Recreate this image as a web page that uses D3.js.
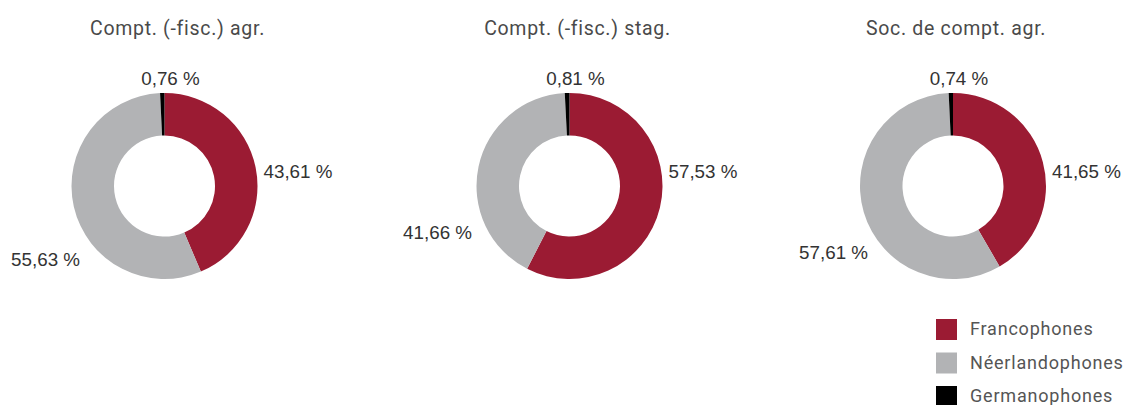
<!DOCTYPE html>
<html>
<head>
<meta charset="utf-8">
<script src="https://cdn.jsdelivr.net/npm/d3@7"></script>
<style>
  body { margin: 0; background: #fff; }
  svg { display: block; }
</style>
</head>
<body>
<div id="chart"></div>
<script>
// Data
const titles = ["Compt. (-fisc.) agr.", "Compt. (-fisc.) stag.", "Soc. de compt. agr."];
const groups = ["Francophones", "Néerlandophones", "Germanophones"];
const francophones = [43.61, 57.53, 41.65];
const neerlandophones = [55.63, 41.66, 57.61];
const germanophones = [0.76, 0.81, 0.74];
const colors = ["#9b1b33", "#b2b3b5", "#000000"];

// Layout
const width = 1129, height = 405;
const centersX = [164.5, 569.5, 953];
const titleX = [177.5, 577.5, 956];
const cy = 186;
const outerR = 93, innerR = 50.5;
// néerlandophones label offsets (right end, baseline) relative to the donut centre
const nlDx = [-84.5, -97.5, -85];
const nlDy = [80, 53, 73];

const svg = d3.select("#chart").append("svg")
    .attr("width", width)
    .attr("height", height);

const color = d3.scaleOrdinal().domain(groups).range(colors);

const pie = d3.pie().sort(null).value(d => d.value);
const arc = d3.arc().innerRadius(innerR).outerRadius(outerR);

const fmt = v => v.toFixed(2).replace(".", ",") + " %";
const labelFont = "'Liberation Sans', Arial, sans-serif";

titles.forEach((title, i) => {
    const values = [francophones[i], neerlandophones[i], germanophones[i]];
    const data = groups.map((g, j) => ({ group: g, value: values[j] }));
    const arcs = pie(data);

    // title
    svg.append("text")
        .attr("x", titleX[i])
        .attr("y", 35)
        .attr("text-anchor", "middle")
        .attr("font-family", "Roboto, sans-serif")
        .attr("font-size", 19.5)
        .attr("letter-spacing", 0.7)
        .attr("fill", "#4a4a4a")
        .text(title);

    const g = svg.append("g")
        .attr("transform", `translate(${centersX[i]},${cy})`);

    g.selectAll("path")
        .data(arcs)
        .join("path")
        .attr("d", arc)
        .attr("fill", d => color(d.data.group));

    const fr = arcs[0], nl = arcs[1], de = arcs[2];

    // francophones, right of the ring
    g.append("text")
        .attr("x", outerR + 6)
        .attr("y", -8)
        .attr("font-family", labelFont)
        .attr("font-size", 18.8)
        .attr("fill", "#333")
        .text(fmt(fr.data.value));

    // néerlandophones, lower left
    g.append("text")
        .attr("x", nlDx[i])
        .attr("y", nlDy[i])
        .attr("text-anchor", "end")
        .attr("font-family", labelFont)
        .attr("font-size", 18.8)
        .attr("fill", "#333")
        .text(fmt(nl.data.value));

    // germanophones, above the top
    g.append("text")
        .attr("x", 6)
        .attr("y", -101)
        .attr("text-anchor", "middle")
        .attr("font-family", labelFont)
        .attr("font-size", 18.8)
        .attr("fill", "#333")
        .text(fmt(de.data.value));
});

// Legend
const legend = svg.append("g")
    .attr("transform", "translate(936,319)");

const rows = legend.selectAll("g")
    .data(groups)
    .join("g")
    .attr("transform", (d, i) => `translate(0,${i * 33.5})`);

rows.append("rect")
    .attr("width", 21)
    .attr("height", 21)
    .attr("fill", d => color(d));

rows.append("text")
    .attr("x", 34)
    .attr("y", 16)
    .attr("font-family", "Roboto, sans-serif")
    .attr("font-size", 18)
    .attr("letter-spacing", 0.8)
    .attr("fill", "#555")
    .text(d => d);
</script>
</body>
</html>
